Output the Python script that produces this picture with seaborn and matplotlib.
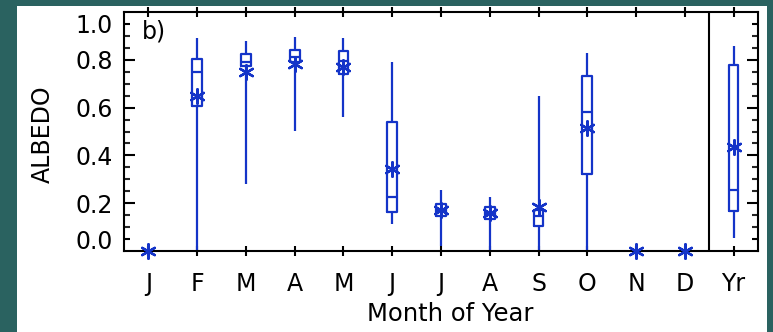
import numpy as np
import pandas as pd
import seaborn as sns
import matplotlib.pyplot as plt
from matplotlib.patches import Rectangle

# category keys (unique) and the letters shown under them
months = ['Jan', 'Feb', 'Mar', 'Apr', 'May', 'Jun', 'Jul', 'Aug', 'Sep', 'Oct', 'Nov', 'Dec', 'Yr']
month_labels = ['J', 'F', 'M', 'A', 'M', 'J', 'J', 'A', 'S', 'O', 'N', 'D', 'Yr']

# box summaries (None = no box for that month)
mins    = [None, 0.00, 0.279, 0.504, 0.560, 0.112, 0.020, 0.000, 0.000, 0.000, None, None, 0.053]
q1s     = [None, 0.608, 0.775, 0.789, 0.740, 0.164, 0.146, 0.133, 0.105, 0.321, None, None, 0.167]
medians = [None, 0.751, 0.789, 0.810, 0.796, 0.224, 0.171, 0.160, 0.146, 0.583, None, None, 0.257]
q3s     = [None, 0.803, 0.824, 0.842, 0.837, 0.539, 0.196, 0.185, 0.171, 0.731, None, None, 0.778]
maxs    = [None, 0.893, 0.879, 0.896, 0.890, 0.789, 0.257, 0.226, 0.650, 0.828, None, None, 0.858]
means   = [0.0, 0.650, 0.751, 0.782, 0.768, 0.345, 0.171, 0.157, 0.185, 0.514, 0.0, 0.0, 0.435]

BLUE = '#1434c8'

# five values per month -> quartiles land exactly on q1/median/q3
rows = []
for m, a, b, c, d, e in zip(months, mins, q1s, medians, q3s, maxs):
    if a is None:
        continue
    for v in (a, b, c, d, e):
        rows.append({'month': m, 'albedo': v})
box_df = pd.DataFrame(rows)
mean_df = pd.DataFrame({'month': months, 'albedo': means})

sns.set_style('ticks')
plt.rcParams['font.family'] = ['DejaVu Sans']
plt.rcParams['text.color'] = 'black'
plt.rcParams['axes.labelcolor'] = 'black'

fig = plt.figure(figsize=(7.73, 3.32), dpi=100, facecolor='#2a6260')
fig.patches.append(Rectangle((17 / 773, 0), 750 / 773, 326 / 332, transform=fig.transFigure,
                             facecolor='white', edgecolor='none', zorder=-10))
ax = fig.add_axes([124 / 773, 81 / 332, 634 / 773, 239 / 332])
ax.set_zorder(5)

sns.boxplot(data=box_df, x='month', y='albedo', order=months, width=0.2, whis=(0, 100),
            fill=False, color=BLUE, linewidth=1.6, showcaps=False, ax=ax)
sns.scatterplot(data=mean_df, x='month', y='albedo', marker=(6, 2, 0), s=110, color=BLUE,
                edgecolor=BLUE, linewidth=1.7, clip_on=False, zorder=5, ax=ax)

ax.axvline(11.5, color='black', lw=1.5)
ax.set_xlim(-0.5, 12.5)
ax.set_ylim(0, 1)

ax.set_xticks(range(len(months)))
ax.set_xticklabels(month_labels)
ax.set_yticks([0.05, 0.2, 0.4, 0.6, 0.8, 0.95])
ax.set_yticklabels(['0.0', '0.2', '0.4', '0.6', '0.8', '1.0'])
ax.set_yticks(np.arange(0.05, 1.0, 0.05), minor=True)

for s in ax.spines.values():
    s.set_visible(True)
    s.set_linewidth(1.5)
    s.set_color('black')

ax.tick_params(axis='x', which='major', direction='inout', length=7, width=1.5,
               top=True, bottom=True, labelsize=17, pad=11.5, colors='black')
ax.tick_params(axis='x', which='minor', bottom=False, top=False)
ax.tick_params(axis='y', which='major', direction='in', length=8, width=1.5,
               left=True, right=True, labelsize=17, pad=8, colors='black')
ax.tick_params(axis='y', which='minor', direction='in', length=4.3, width=1.5,
               left=True, right=True)
yt = ax.yaxis.get_major_ticks()
for t in (yt[0], yt[-1]):
    t.tick1line.set_markersize(4.3)
    t.tick2line.set_markersize(4.3)

ax.set_xlabel('Month of Year', fontsize=17.5)
ax.set_ylabel('ALBEDO', fontsize=17)
ax.xaxis.set_label_coords(0.514, -0.215)
ax.yaxis.set_label_coords(-0.109, 0.49)
ax.text(0.028, 0.968, 'b)', transform=ax.transAxes, fontsize=17, va='top', ha='left')

fig.savefig('out.png', dpi=100, facecolor=fig.get_facecolor())
